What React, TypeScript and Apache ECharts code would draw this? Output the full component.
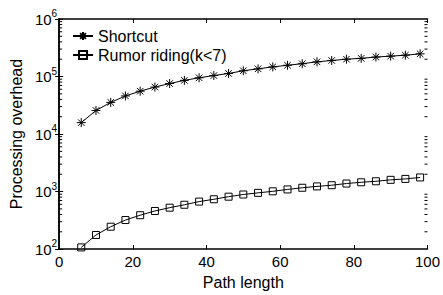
import React, { useEffect, useRef } from 'react';
import * as echarts from 'echarts';

const pathLength = [6, 10, 14, 18, 22, 26, 30, 34, 38, 42, 46, 50, 54, 58, 62, 66, 70, 74, 78, 82, 86, 90, 94, 98];
const shortcut = [15800, 25700, 35500, 46000, 55600, 65600, 75500, 85800, 95000, 104000, 113000, 126000, 136000, 147000, 157000, 167000, 180000, 190000, 200000, 207000, 218000, 226000, 235000, 248000];
const rumorRiding = [107, 176, 245, 320, 388, 460, 525, 590, 670, 735, 815, 890, 950, 1010, 1090, 1165, 1230, 1290, 1380, 1450, 1510, 1600, 1660, 1760];
const seriesNames = ['Shortcut', 'Rumor riding(k<7)'];
const xMin = 0;
const xMax = 100;
const minorMultipliers = [2, 3, 4, 5, 6, 7, 8, 9];
const decades = [100, 1000, 10000, 100000];

const FONT = 'Liberation Sans, Arial, sans-serif';
const ASTERISK = 'path://M0,-5L0,5M-5,0L5,0M-3.6,-3.6L3.6,3.6M-3.6,3.6L3.6,-3.6';

export default function App() {
  const ref = useRef<HTMLDivElement>(null);
  useEffect(() => {
    const chart = echarts.init(ref.current!, null, { renderer: 'svg' });
    const minorData: number[][] = [];
    decades.forEach((d) => minorMultipliers.forEach((m) => minorData.push([50, m * d])));
    const axisLineStyle = { color: '#000', width: 1.5 };
    const tickStyle = { color: '#000', width: 1 };
    chart.setOption({
      animation: false,
      backgroundColor: '#fff',
      textStyle: { fontFamily: FONT },
      grid: { left: 58, right: 14, top: 19, bottom: 36 },
      legend: {
        data: seriesNames,
        orient: 'vertical',
        left: 72,
        top: 28,
        padding: 0,
        itemWidth: 20,
        itemHeight: 10,
        itemGap: 3,
        textStyle: { fontSize: 16, color: '#000', fontFamily: FONT },
      },
      xAxis: [
        {
          type: 'value',
          min: xMin,
          max: xMax,
          interval: 20,
          name: 'Path length',
          nameLocation: 'middle',
          nameGap: 21,
          nameTextStyle: { fontSize: 16, color: '#000', fontFamily: FONT },
          axisLine: { lineStyle: axisLineStyle },
          axisTick: { inside: true, length: 4, lineStyle: tickStyle },
          axisLabel: { fontSize: 15, color: '#000', margin: 5, fontFamily: FONT },
          splitLine: { show: false },
        },
        {
          type: 'value',
          position: 'top',
          min: xMin,
          max: xMax,
          interval: 20,
          axisLine: { lineStyle: axisLineStyle },
          axisTick: { inside: true, length: 4, lineStyle: tickStyle },
          axisLabel: { show: false },
          splitLine: { show: false },
        },
      ],
      yAxis: [
        {
          type: 'log',
          logBase: 10,
          min: 100,
          max: 1000000,
          name: 'Processing overhead',
          nameLocation: 'middle',
          nameGap: 30,
          nameTextStyle: { fontSize: 16, color: '#000', fontFamily: FONT },
          axisLine: { lineStyle: axisLineStyle },
          axisTick: { inside: true, length: 4, lineStyle: tickStyle },
          axisLabel: {
            margin: 2,
            formatter: (v: number) => '{b|10}{s|' + Math.round(Math.log10(v)) + '}',
            rich: {
              b: { fontSize: 15, color: '#000', fontFamily: FONT },
              s: { fontSize: 10, color: '#000', fontFamily: FONT, padding: [0, 0, 11, 0] },
            },
          },
          splitLine: { show: false },
        },
        {
          type: 'log',
          logBase: 10,
          min: 100,
          max: 1000000,
          position: 'right',
          axisLine: { lineStyle: axisLineStyle },
          axisTick: { inside: true, length: 4, lineStyle: tickStyle },
          axisLabel: { show: false },
          splitLine: { show: false },
        },
      ],
      series: [
        {
          name: 'minorTicks',
          type: 'custom',
          silent: true,
          clip: false,
          z: 10,
          data: minorData,
          renderItem: (params: any, api: any) => {
            const left = api.coord([xMin, api.value(1)]);
            const right = api.coord([xMax, api.value(1)]);
            const y = left[1];
            return {
              type: 'group',
              children: [
                { type: 'line', shape: { x1: left[0], y1: y, x2: left[0] + 3, y2: y }, style: { stroke: '#000', lineWidth: 1 } },
                { type: 'line', shape: { x1: right[0] - 3, y1: y, x2: right[0], y2: y }, style: { stroke: '#000', lineWidth: 1 } },
              ],
            };
          },
        },
        {
          name: seriesNames[0],
          type: 'line',
          data: pathLength.map((x, i) => [x, shortcut[i]]),
          symbol: ASTERISK,
          symbolSize: 9,
          lineStyle: { color: '#000', width: 1 },
          itemStyle: { color: '#000', borderColor: '#000', borderWidth: 1 },
        },
        {
          name: seriesNames[1],
          type: 'line',
          data: pathLength.map((x, i) => [x, rumorRiding[i]]),
          symbol: 'rect',
          symbolSize: 7,
          lineStyle: { color: '#000', width: 1 },
          itemStyle: { color: 'rgba(0,0,0,0)', borderColor: '#000', borderWidth: 1 },
        },
      ],
    });
    return () => chart.dispose();
  }, []);
  return <div ref={ref} style={{ position: 'absolute', left: 0, top: 0, width: 443, height: 295 }} />;
}
